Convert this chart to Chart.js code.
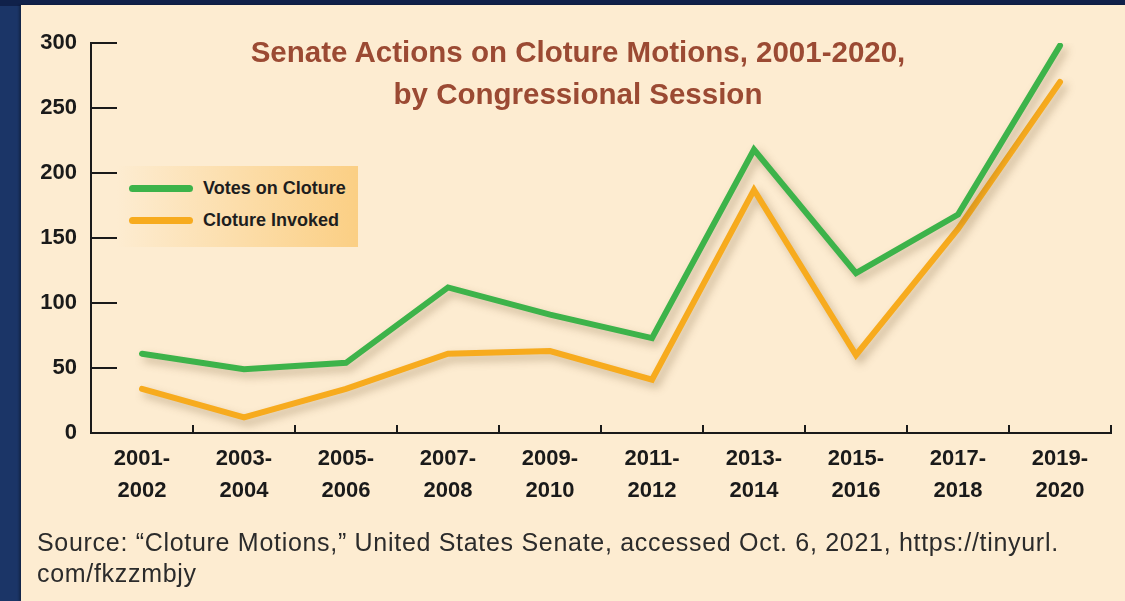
<!DOCTYPE html>
<html><head><meta charset="utf-8">
<script src="https://cdn.jsdelivr.net/npm/chart.js@4.4.0/dist/chart.umd.min.js"></script>
<style>
html,body{margin:0;padding:0;width:1125px;height:601px;overflow:hidden;background:#1b3567;}
#topbar{position:absolute;left:0;top:0;width:1125px;height:6px;background:#10214a;}
#panel{position:absolute;left:21px;top:5px;width:1104px;height:596px;background:#fdecd1;box-shadow:-2px 0 2px rgba(0,0,0,0.3);}
#c{position:absolute;left:0;top:0;}
#title{position:absolute;left:228px;width:700px;top:31px;text-align:center;color:#9b4a33;font:bold 29.5px "Liberation Sans",Arial,sans-serif;line-height:42px;}
#legend{position:absolute;left:117px;top:166px;width:241px;height:81px;background:linear-gradient(to right,#fdecd1,#fbcf84);}
.item{position:absolute;left:12px;height:20px;display:flex;align-items:center;font:bold 18px "Liberation Sans",Arial,sans-serif;color:#1e1e1e;white-space:nowrap;}
.swatch{width:64px;height:7px;border-radius:4px;margin-right:10px;}
#source{position:absolute;left:37px;top:527px;font:25px "Liberation Sans",Arial,sans-serif;letter-spacing:0.7px;color:#2b2b2b;line-height:31px;white-space:nowrap;}
</style></head>
<body>
<div id="topbar"></div>
<div id="panel"></div>
<canvas id="c" width="1125" height="601"></canvas>
<div id="title">Senate Actions on Cloture Motions, 2001-2020,<br>by Congressional Session</div>
<div id="legend"></div>
<div id="source">Source: “Cloture Motions,” United States Senate, accessed Oct. 6, 2021, https://tinyurl.<br>com/fkzzmbjy</div>
<script>
const categories = [['2001-','2002'],['2003-','2004'],['2005-','2006'],['2007-','2008'],['2009-','2010'],['2011-','2012'],['2013-','2014'],['2015-','2016'],['2017-','2018'],['2019-','2020']];
const seriesNames = ['Votes on Cloture','Cloture Invoked'];
const votesOnCloture = [61,49,54,112,91,73,218,123,168,298];
const clotureInvoked = [34,12,34,61,63,41,187,60,157,270];
const yTicks = [0,50,100,150,200,250,300];
const colors = ['#3db34a','#f7ab1e'];

const legend = document.getElementById('legend');
seriesNames.forEach((n,i)=>{
  const d=document.createElement('div'); d.className='item'; d.style.top=(12+i*32)+'px';
  d.innerHTML='<span class="swatch" style="background:'+colors[i]+'"></span>'+n;
  legend.appendChild(d);
});

const shadowPlugin = {
  id:'shadow',
  beforeDatasetDraw(chart){const c=chart.ctx;c.save();c.shadowColor='rgba(110,80,40,0.35)';c.shadowBlur=8;c.shadowOffsetX=4;c.shadowOffsetY=5;},
  afterDatasetDraw(chart){chart.ctx.restore();}
};
const tickPlugin = {
  id:'ticksIn',
  afterDraw(chart){
    const c=chart.ctx, x=chart.scales.x, y=chart.scales.y;
    c.save(); c.strokeStyle='#1a1a1a'; c.lineWidth=2;
    y.ticks.forEach(t=>{ if(t.value===0) return; const py=Math.round(y.getPixelForValue(t.value));
      c.beginPath(); c.moveTo(x.left, py); c.lineTo(x.left+26, py); c.stroke(); });
    for(let i=0;i<categories.length;i++){ const px=Math.round(x.getPixelForValue(i+0.5));
      c.beginPath(); c.moveTo(px, x.top); c.lineTo(px, x.top-8); c.stroke(); }
    c.restore();
  }
};
const tickFont = {family:'"Liberation Sans", Arial, sans-serif', weight:'bold', size:22, lineHeight:1.45};
new Chart(document.getElementById('c'), {
  type:'line',
  data:{labels:categories, datasets:[
    {label:seriesNames[0], data:votesOnCloture, borderColor:colors[0], borderWidth:6, pointRadius:0, tension:0, borderCapStyle:'round', borderJoinStyle:'miter', fill:false},
    {label:seriesNames[1], data:clotureInvoked, borderColor:colors[1], borderWidth:6, pointRadius:0, tension:0, borderCapStyle:'round', borderJoinStyle:'miter', fill:false}
  ]},
  options:{
    responsive:false, animation:false, devicePixelRatio:1,
    layout:{padding:{left:0, top:43, right:14, bottom:88}},
    plugins:{legend:{display:false}, title:{display:false}, tooltip:{enabled:false}},
    scales:{
      x:{offset:true, grid:{display:false, drawTicks:false}, border:{display:true, color:'#1a1a1a', width:2},
         ticks:{padding:10, color:'#1a1a1a', font:tickFont, maxRotation:0, autoSkip:false},
         afterFit(s){s.height=80;}},
      y:{min:0, max:300, grid:{display:false, drawTicks:false}, border:{display:true, color:'#1a1a1a', width:2},
         afterBuildTicks(s){s.ticks=yTicks.map(v=>({value:v}));},
         ticks:{padding:14, color:'#1a1a1a', font:tickFont},
         afterFit(s){s.width=91;}}
    }
  },
  plugins:[shadowPlugin, tickPlugin]
});
</script>
</body></html>
